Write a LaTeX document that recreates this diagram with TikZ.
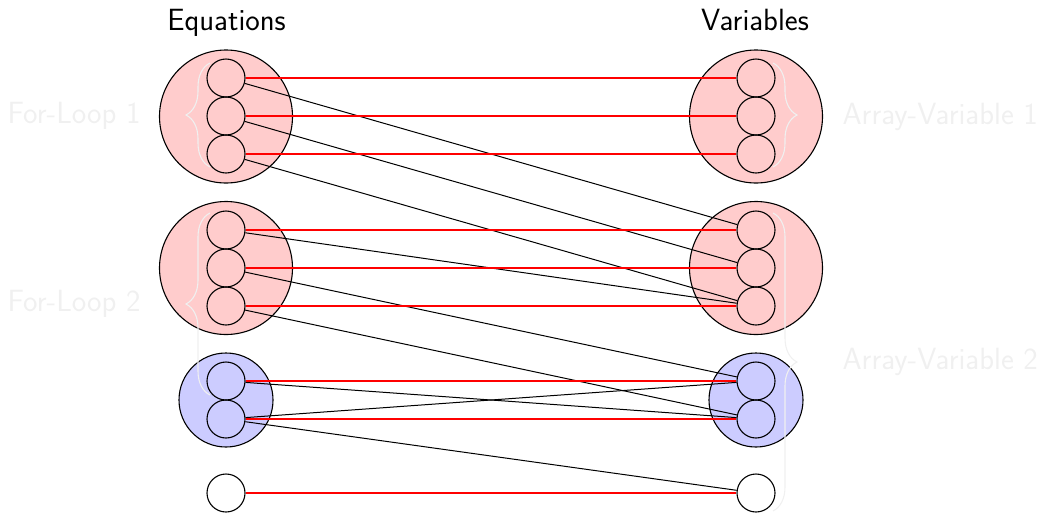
\documentclass[tikz,border=0pt]{standalone}
\usepackage{fontspec}
\usetikzlibrary{decorations.pathreplacing}
\definecolor{faint}{gray}{0.94}
\begin{document}
\begin{tikzpicture}[x=1pt,y=-1pt,line width=1.1pt,
  font=\sffamily\fontsize{30.7}{36}\selectfont,
  group/.style={circle,draw,inner sep=0pt,minimum size=#1},
  redgroup/.style={group=#1,fill=red!20},
  bluegroup/.style={group=#1,fill=blue!20},
  item/.style={circle,draw,inner sep=0pt,minimum size=38pt},
  edge/.style={draw=black,line width=1pt},
  match/.style={draw=red,line width=1.1pt},
  fbrace/.style={draw=faint,decorate,decoration={brace,amplitude=24pt}},
  faintlabel/.style={text=faint,inner sep=0pt}]
\useasboundingbox (0,0) rectangle (1038,512);

% group discs
\node[redgroup=133pt]  (ga) at (226,116.5) {};
\node[redgroup=133pt]  (gb) at (226,268) {};
\node[bluegroup=94pt]  (gc) at (226,400) {};
\node[redgroup=133pt]  (ha) at (756,116.5) {};
\node[redgroup=133pt]  (hb) at (756,268) {};
\node[bluegroup=94pt]  (hc) at (756,400) {};

% braces marking loops and array variables
\coordinate (lb1a) at (210,167); \coordinate (lb1b) at (210,63);
\coordinate (lb2a) at (210,395); \coordinate (lb2b) at (210,213);
\coordinate (rb1a) at (773,63);  \coordinate (rb1b) at (773,167);
\coordinate (rb2a) at (773,213); \coordinate (rb2b) at (773,511);
\draw[fbrace] (lb1a) -- (lb1b);
\draw[fbrace] (lb2a) -- (lb2b);
\draw[fbrace] (rb1a) -- (rb1b);
\draw[fbrace] (rb2a) -- (rb2b);

% equations and variables
\foreach \n/\y in {1/78,2/116,3/154,4/230,5/268,6/306,7/381,8/419,9/493}{
  \node[item] (e\n) at (226,\y) {};
  \node[item] (v\n) at (756,\y) {};
}

% incidence edges
\foreach \a/\b in {1/1,1/4,2/2,2/5,3/3,3/6,4/4,4/6,5/5,5/7,6/6,6/8,7/7,7/8,8/8,8/7,8/9,9/9}{
  \draw[edge] (e\a) -- (v\b);
}
% matching
\foreach \a in {1,...,9}{
  \draw[match] (e\a) -- (v\a);
}

% headings
\node[anchor=base,inner sep=0pt] (heq) at (226.5,30) {Equations};
\node[anchor=base,inner sep=0pt] (hvar) at (755,30) {Variables};

% group labels
\node[faintlabel,anchor=east] (fl1) at (141,116) {For-Loop 1};
\node[faintlabel,anchor=east] (fl2) at (141,304) {For-Loop 2};
\node[faintlabel,anchor=west] (av1) at (842,117) {Array-Variable 1};
\node[faintlabel,anchor=west] (av2) at (842,362) {Array-Variable 2};
\end{tikzpicture}
\end{document}
